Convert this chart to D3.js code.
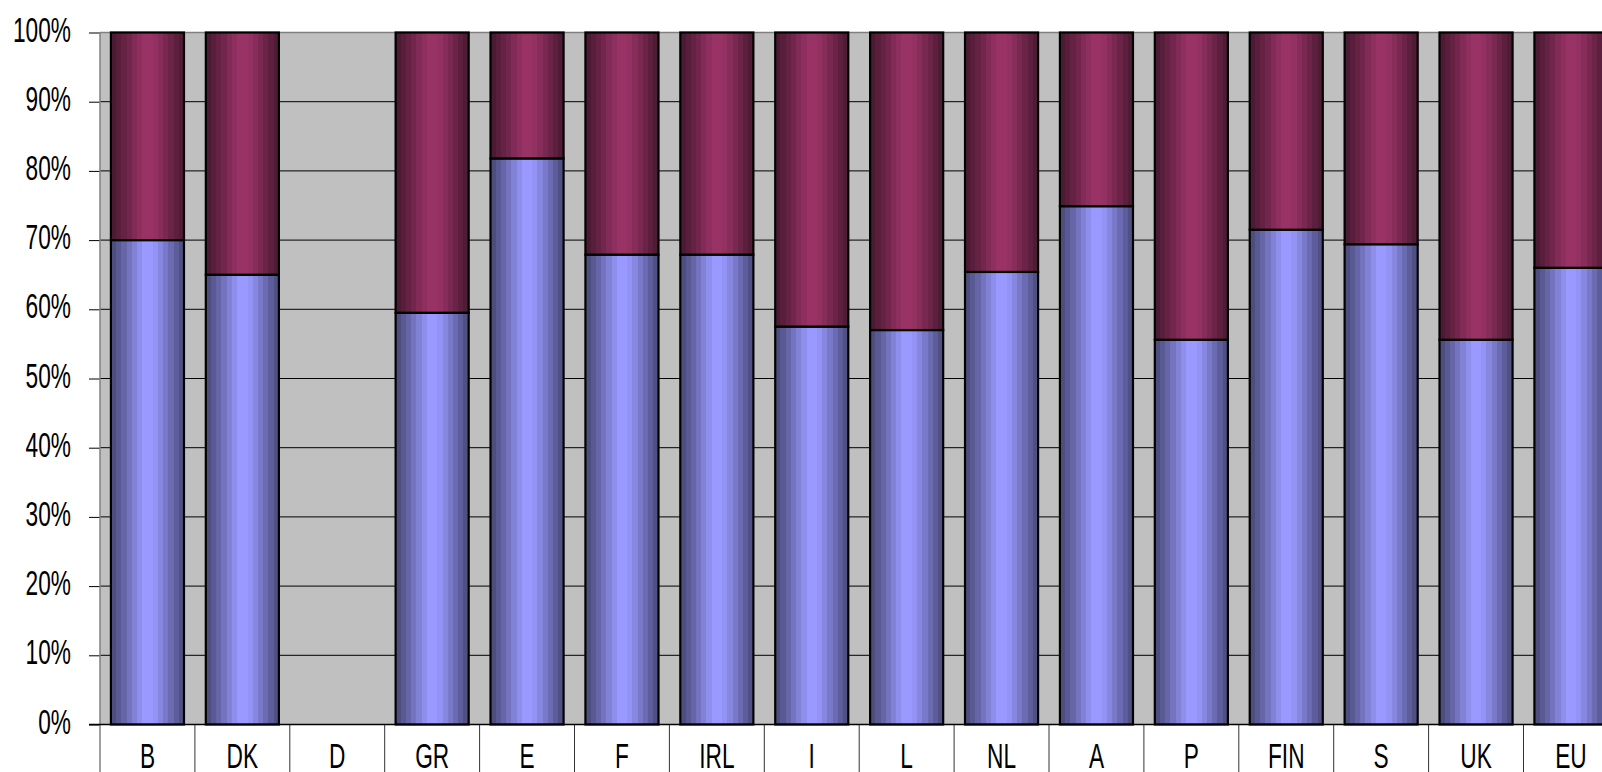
<!DOCTYPE html>
<html>
<head>
<meta charset="utf-8">
<script src="https://cdn.jsdelivr.net/npm/d3@7"></script>
<style>
  html, body { margin: 0; padding: 0; background: #fff; overflow: hidden; }
  svg { display: block; }
  text { font-family: "Liberation Sans", Arial, sans-serif; fill: #000; }
</style>
</head>
<body>
<svg id="chart" width="1602" height="772"></svg>
<script>
// ---- data ----
const categories = ["B","DK","D","GR","E","F","IRL","I","L","NL","A","P","FIN","S","UK","EU"];
const seriesLower = [70, 65, 0, 59.5, 81.8, 67.9, 67.9, 57.5, 57.0, 65.4, 74.9, 55.6, 71.5, 69.4, 55.6, 66.0];
const seriesUpper = [30, 35, 0, 40.5, 18.2, 32.1, 32.1, 42.5, 43.0, 34.6, 25.1, 44.4, 28.5, 30.6, 44.4, 34.0];
const tickValues = [0, 10, 20, 30, 40, 50, 60, 70, 80, 90, 100];
const tickLabels = ["0%","10%","20%","30%","40%","50%","60%","70%","80%","90%","100%"];

(function () {
// ---- layout ----
const W = 1602, H = 772;
const pLeft = 100, pTop = 32.5, pBottom = 724.5;
const step = 94.9;
const pRight = pLeft + step * categories.length;
const sx = 0.63; // horizontal text compression

const svg = d3.select("#chart");

const x = d3.scaleBand().domain(categories).range([pLeft, pRight])
  .paddingInner(0.23).paddingOuter(0.115);
const y = d3.scaleLinear().domain([0, 100]).range([pBottom, pTop]);

// gradients
const defs = svg.append("defs");
const bandFactors = [0.5,0.58,0.66,0.75,0.84,0.93,1.0,1.0,0.96,0.88,0.79,0.7,0.61,0.52];
function makeGrad(id, base) {
  const g = defs.append("linearGradient").attr("id", id)
    .attr("x1", "0%").attr("x2", "100%").attr("y1", "0%").attr("y2", "0%");
  const c = d3.rgb(base);
  const n = bandFactors.length;
  bandFactors.forEach((f, i) => {
    const col = d3.rgb(c.r * f, c.g * f, c.b * f).formatHex();
    g.append("stop").attr("offset", (i / n * 100) + "%").attr("stop-color", col);
    g.append("stop").attr("offset", ((i + 1) / n * 100) + "%").attr("stop-color", col);
  });
}
makeGrad("gBlue", "#9999ff");
makeGrad("gPurple", "#993366");

// plot background
svg.append("rect").attr("x", pLeft).attr("y", pTop)
  .attr("width", pRight - pLeft).attr("height", pBottom - pTop)
  .attr("fill", "#c0c0c0");

// gridlines
svg.append("g").selectAll("line").data(tickValues.filter(v => v > 0 && v < 100)).join("line")
  .attr("x1", pLeft).attr("x2", pRight)
  .attr("y1", d => y(d)).attr("y2", d => y(d))
  .attr("stroke", "#000").attr("stroke-width", 1);
// top border
svg.append("line").attr("x1", pLeft).attr("x2", pRight).attr("y1", pTop).attr("y2", pTop)
  .attr("stroke", "#808080").attr("stroke-width", 1.5);

// bars
const bars = svg.append("g");
categories.forEach((c, i) => {
  const lo = seriesLower[i], hi = seriesUpper[i];
  if (lo + hi <= 0) return;
  bars.append("rect")
    .attr("x", x(c)).attr("width", x.bandwidth())
    .attr("y", y(lo)).attr("height", y(0) - y(lo))
    .attr("fill", "url(#gBlue)").attr("stroke", "#000").attr("stroke-width", 2.2);
  bars.append("rect")
    .attr("x", x(c)).attr("width", x.bandwidth())
    .attr("y", y(lo + hi)).attr("height", y(lo) - y(lo + hi))
    .attr("fill", "url(#gPurple)").attr("stroke", "#000").attr("stroke-width", 2.2);
});

// category separators below axis
svg.append("g").selectAll("line").data(d3.range(1, categories.length + 1)).join("line")
  .attr("x1", i => pLeft + i * x.step()).attr("x2", i => pLeft + i * x.step())
  .attr("y1", pBottom).attr("y2", H)
  .attr("stroke", "#333").attr("stroke-width", 1);

// y axis
const yAxis = d3.axisLeft(y).tickValues(tickValues)
  .tickFormat((d, i) => tickLabels[i]).tickSize(11).tickSizeOuter(0);
const gy = svg.append("g").attr("transform", `translate(${pLeft},0)`).call(yAxis);
gy.select(".domain").remove();
gy.selectAll(".tick line").attr("stroke", "#000").attr("stroke-width", 1);
gy.selectAll(".tick text")
  .attr("x", 0).attr("dy", null)
  .attr("transform", "translate(-29,8.5) scale(" + sx + ",1)")
  .attr("font-size", 36).attr("font-family", "Liberation Sans, Arial, sans-serif")
  .attr("fill", "#000");

// left vertical axis line
svg.append("line").attr("x1", pLeft).attr("x2", pLeft).attr("y1", pTop).attr("y2", H)
  .attr("stroke", "#808080").attr("stroke-width", 1.5);

// x axis
const xAxis = d3.axisBottom(x).tickSize(0).tickSizeOuter(0);
const gx = svg.append("g").attr("transform", `translate(0,${pBottom})`).call(xAxis);
gx.select(".domain").remove();
gx.selectAll(".tick text")
  .attr("y", 0).attr("dy", null)
  .attr("transform", "translate(0,43) scale(" + sx + ",1)")
  .attr("font-size", 36).attr("font-family", "Liberation Sans, Arial, sans-serif")
  .attr("fill", "#000");
// horizontal axis line
svg.append("line").attr("x1", pLeft - 11).attr("x2", W).attr("y1", pBottom).attr("y2", pBottom)
  .attr("stroke", "#000").attr("stroke-width", 1.5);
})();
</script>
</body>
</html>
